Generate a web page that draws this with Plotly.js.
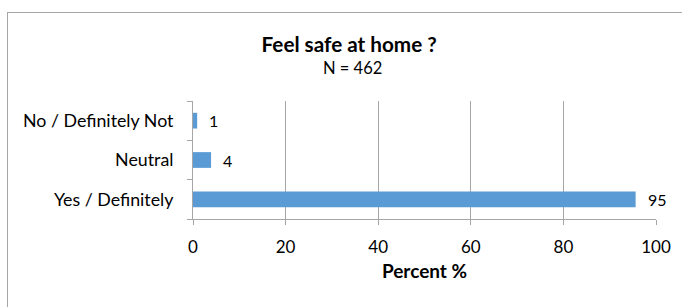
<!DOCTYPE html>
<html>
<head>
<meta charset="utf-8">
<script src="https://cdn.plot.ly/plotly-3.0.1.min.js"></script>
<style>
html,body{margin:0;padding:0;background:#fff;}
#wrap{position:relative;width:682px;height:307px;overflow:hidden;}
#frame{position:absolute;left:7px;top:12px;width:680px;height:310px;border:1.5px solid #a6a6a6;box-sizing:border-box;}
#chart{position:absolute;left:0;top:0;width:682px;height:307px;}
</style>
</head>
<body>
<div id="wrap">
<div id="frame"></div>
<div id="chart"></div>
</div>
<script>
const categories = ["Yes / Definitely", "Neutral", "No / Definitely Not"];
const percentValues = [95.6, 3.9, 0.9];
const valueLabels = ["95", "4", "1"];
const xTickValues = [0, 20, 40, 60, 80, 100];
const chartTitle = "Feel safe at home ?";
const chartSubtitle = "N = 462";
const xAxisTitle = "Percent %";

const fontFam = "Lato, 'Open Sans', sans-serif";

const trace = {
  type: "bar",
  orientation: "h",
  y: categories,
  x: percentValues,
  width: 0.4,
  marker: {color: "#5b9bd5", line: {color: "#5b9bd5", width: 0}},
  hoverinfo: "none"
};

const annotations = categories.map((c, i) => ({
  x: percentValues[i], y: c, xref: "x", yref: "y",
  text: valueLabels[i], showarrow: false, xanchor: "left",
  xshift: 10, font: {family: fontFam, size: 16, color: "#000"}
}));
annotations.push({
  xref: "paper", yref: "paper", x: 0.344, y: 1.0, yanchor: "middle", xanchor: "center",
  yshift: 33, text: chartSubtitle, showarrow: false,
  font: {family: fontFam, size: 16.5, color: "#000"}
});

const layout = {
  width: 682, height: 307,
  margin: {l: 193, r: 26, t: 101, b: 88},
  paper_bgcolor: "rgba(0,0,0,0)",
  plot_bgcolor: "rgba(0,0,0,0)",
  showlegend: false,
  title: {
    text: "<b>" + chartTitle + "</b>",
    font: {family: fontFam, size: 20.7, color: "#000"},
    x: 0.512, xanchor: "center", y: 0.853, yanchor: "middle"
  },
  xaxis: {
    range: [0, 100],
    tickvals: xTickValues,
    ticktext: xTickValues.map(String),
    showgrid: true, gridcolor: "#a6a6a6", gridwidth: 1,
    zeroline: false,
    showline: true, linecolor: "#a6a6a6", linewidth: 1,
    ticks: "outside", ticklen: 5, tickcolor: "#a6a6a6",
    ticklabelstandoff: 8,
    tickfont: {family: fontFam, size: 17, color: "#000"},
    title: {text: "<b>" + xAxisTitle + "</b>", font: {family: fontFam, size: 19, color: "#000"}, standoff: 8},
    fixedrange: true
  },
  yaxis: {
    type: "category",
    categoryorder: "array", categoryarray: categories,
    showline: true, linecolor: "#a6a6a6", linewidth: 1,
    ticks: "outside", ticklen: 5, tickcolor: "#a6a6a6",
    tickson: "boundaries",
    showgrid: false,
    ticklabelstandoff: 15,
    tickfont: {family: fontFam, size: 17.8, color: "#000"},
    fixedrange: true
  },
  annotations: annotations
};

Plotly.newPlot("chart", [trace], layout, {displayModeBar: false, staticPlot: true});
</script>
</body>
</html>
